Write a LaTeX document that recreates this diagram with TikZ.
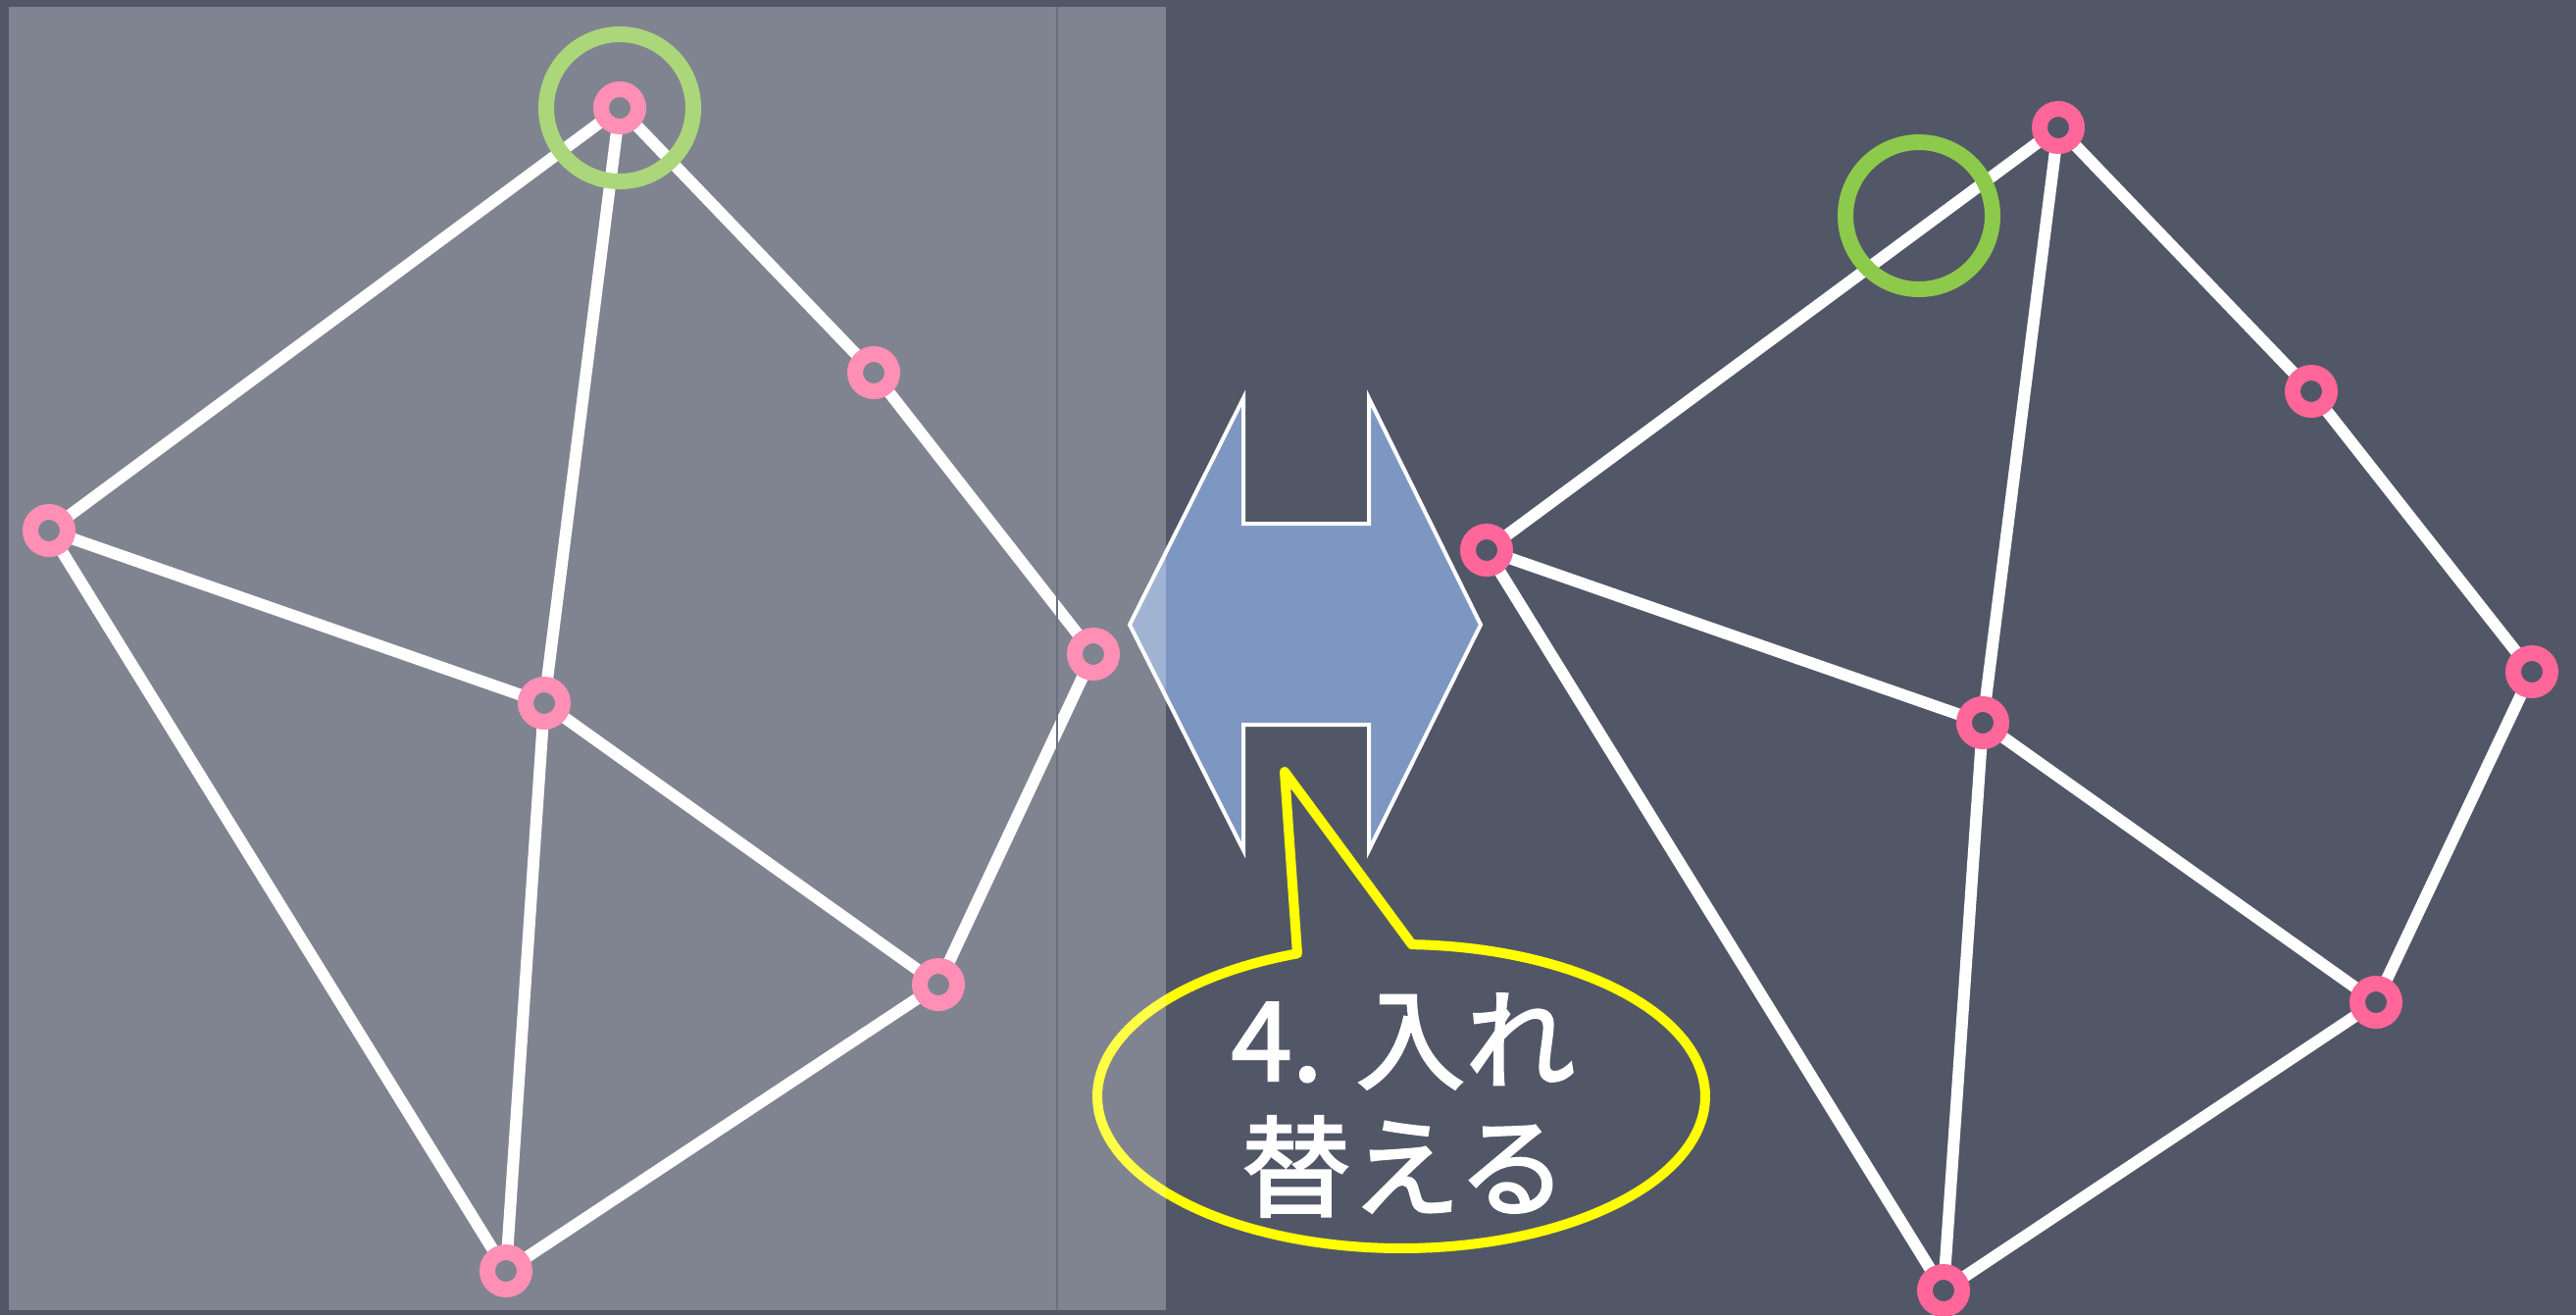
\documentclass[tikz,border=0pt]{standalone}
\usepackage{fontspec}
\newfontfamily\jpfont{Noto Sans CJK JP}[FakeBold=2]
\pgfdeclarelayer{back}
\pgfdeclarelayer{edges}
\pgfsetlayers{back,edges,main}
\definecolor{board}{HTML}{525767}
\definecolor{vpink}{HTML}{FF6699}
\definecolor{hgreen}{HTML}{8DC94A}
\definecolor{arrowblue}{HTML}{7E97C2}
\definecolor{callyellow}{HTML}{FFFF00}
\tikzset{
  vtx/.style={circle, draw=vpink, line width=8pt, fill=board, minimum size=19pt, inner sep=0pt},
  link/.style={draw=white, line width=6pt},
  hilite/.style={circle, draw=hgreen, line width=8pt, minimum size=75pt, inner sep=0pt},
  swaparrow/.style={fill=arrowblue, draw=white, line width=2pt, line join=miter},
  callout/.style={draw=callyellow, line width=5pt, line join=round},
  txt/.style={text=white, font=\jpfont\fontsize{56pt}{64pt}\selectfont, inner sep=0pt},
  panel/.style={fill=white, opacity=0.27}
}
\begin{document}
\begin{tikzpicture}[x=0.5pt, y=-0.5pt]
\useasboundingbox (0,0) rectangle (2627,1341);
\begin{pgfonlayer}{back}
  \fill[board] (0,0) rectangle (2627,1341);
\end{pgfonlayer}

% left graph
\node[vtx] (a) at (632,110) {};
\node[vtx] (b) at (891,380) {};
\node[vtx] (c) at (1115,667) {};
\node[vtx] (d) at (957,1004) {};
\node[vtx] (e) at (516,1296) {};
\node[vtx] (f) at (555,717) {};
\node[vtx] (g) at (50,541) {};
\begin{pgfonlayer}{edges}
  \draw[link] (g.center) -- (a.center);
  \draw[link] (a.center) -- (f.center);
  \draw[link] (a.center) -- (b.center);
  \draw[link] (b.center) -- (c.center);
  \draw[link] (c.center) -- (d.center);
  \draw[link] (d.center) -- (f.center);
  \draw[link] (d.center) -- (e.center);
  \draw[link] (f.center) -- (e.center);
  \draw[link] (g.center) -- (f.center);
  \draw[link] (g.center) -- (e.center);
\end{pgfonlayer}
\node[hilite] (hl) at (632,110) {};

% right graph
\node[vtx] (ra) at (2099,130) {};
\node[vtx] (rb) at (2357,399) {};
\node[vtx] (rc) at (2582,685) {};
\node[vtx] (rd) at (2423,1022) {};
\node[vtx] (re) at (1982,1316) {};
\node[vtx] (rf) at (2022,737) {};
\node[vtx] (rg) at (1516,561) {};
\begin{pgfonlayer}{edges}
  \draw[link] (rg.center) -- (ra.center);
  \draw[link] (ra.center) -- (rf.center);
  \draw[link] (ra.center) -- (rb.center);
  \draw[link] (rb.center) -- (rc.center);
  \draw[link] (rc.center) -- (rd.center);
  \draw[link] (rd.center) -- (rf.center);
  \draw[link] (rd.center) -- (re.center);
  \draw[link] (rf.center) -- (re.center);
  \draw[link] (rg.center) -- (rf.center);
  \draw[link] (rg.center) -- (re.center);
\end{pgfonlayer}
\node[hilite] (hr) at (1957,220) {};

% double arrow
\draw[swaparrow] (1152,637) -- (1268,406) -- (1268,534) -- (1396,534) -- (1396,406)
  -- (1510,637) -- (1396,867) -- (1396,739) -- (1268,739) -- (1268,867) -- cycle;

% callout
\draw[callout] plot[domain=-88:250, samples=150] ({1429+310*cos(\x)},{1118+155*sin(\x)})
  -- (1310,787) -- cycle;
\node[txt, anchor=base] (t1) at (1431,1102) {4.\hspace{0.3em}入れ};
\node[txt, anchor=base] (t2) at (1432,1232) {替える};

% translucent left panel
\fill[panel] (9,7) rectangle (1189,1336);
\draw[board!85!white, line width=1pt] (1078,7) -- (1078,1336);
\end{tikzpicture}
\end{document}
